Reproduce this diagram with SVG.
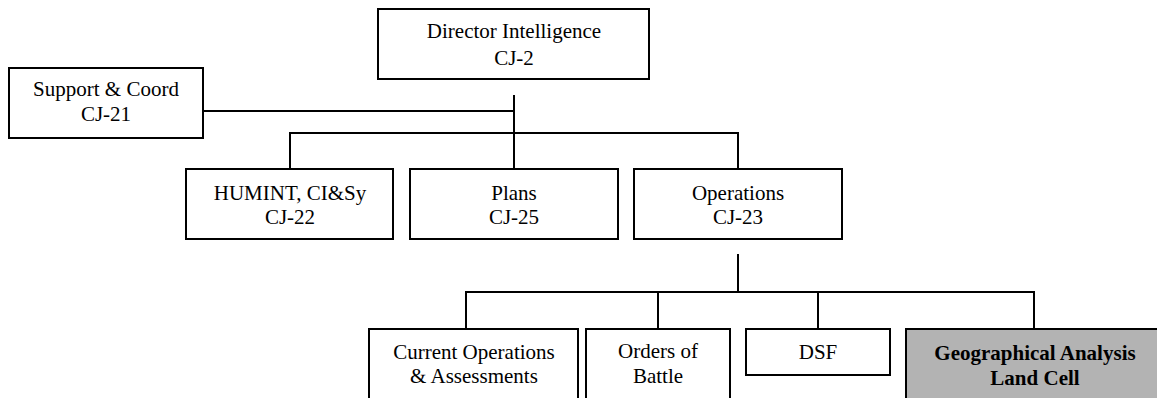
<svg xmlns="http://www.w3.org/2000/svg" width="1157" height="398" viewBox="0 0 1157 398">
<style>
.box{fill:#ffffff;stroke:#000000;stroke-width:2}
.shaded{fill:#b3b3b3;stroke:#000000;stroke-width:2}
.t{font-family:"Liberation Serif","Times New Roman",serif;font-size:21px;fill:#000000;text-anchor:middle}
.b{font-weight:bold}
.c{fill:none;stroke:#000000;stroke-width:2}
</style>
<rect width="1157" height="398" fill="#ffffff"/>
<g id="connectors">
<path class="c" d="M514 95 V169"/>
<path class="c" d="M203 111 H514"/>
<path class="c" d="M290 169 V133 H738 V169"/>
<path class="c" d="M738 254 V292"/>
<path class="c" d="M466 329 V292 H1034 V329"/>
<path class="c" d="M658 292 V329"/>
<path class="c" d="M818 292 V329"/>
</g>
<g id="director">
<rect class="box" x="378" y="9" width="271" height="70"/>
<text class="t" x="514" y="38">Director Intelligence</text>
<text class="t" x="514" y="65">CJ-2</text>
</g>
<g id="support">
<rect class="box" x="9" y="68" width="194" height="70"/>
<text class="t" x="106" y="96">Support &amp; Coord</text>
<text class="t" x="106" y="121">CJ-21</text>
</g>
<g id="humint">
<rect class="box" x="186" y="169" width="207" height="70"/>
<text class="t" x="290" y="200">HUMINT, CI&amp;Sy</text>
<text class="t" x="290" y="224">CJ-22</text>
</g>
<g id="plans">
<rect class="box" x="410" y="169" width="208" height="70"/>
<text class="t" x="514" y="200">Plans</text>
<text class="t" x="514" y="224">CJ-25</text>
</g>
<g id="operations">
<rect class="box" x="634" y="169" width="208" height="70"/>
<text class="t" x="738" y="200">Operations</text>
<text class="t" x="738" y="224">CJ-23</text>
</g>
<g id="current-ops">
<rect class="box" x="369" y="329" width="209" height="80"/>
<text class="t" x="474" y="359">Current Operations</text>
<text class="t" x="474" y="383">&amp; Assessments</text>
</g>
<g id="orders">
<rect class="box" x="586" y="329" width="144" height="80"/>
<text class="t" x="658" y="358">Orders of</text>
<text class="t" x="658" y="383">Battle</text>
</g>
<g id="dsf">
<rect class="box" x="746" y="329" width="144" height="46"/>
<text class="t" x="818" y="359">DSF</text>
</g>
<g id="geo">
<rect class="shaded" x="906" y="329" width="257" height="80"/>
<text class="t b" x="1035" y="360">Geographical Analysis</text>
<text class="t b" x="1035" y="385">Land Cell</text>
</g>
</svg>
